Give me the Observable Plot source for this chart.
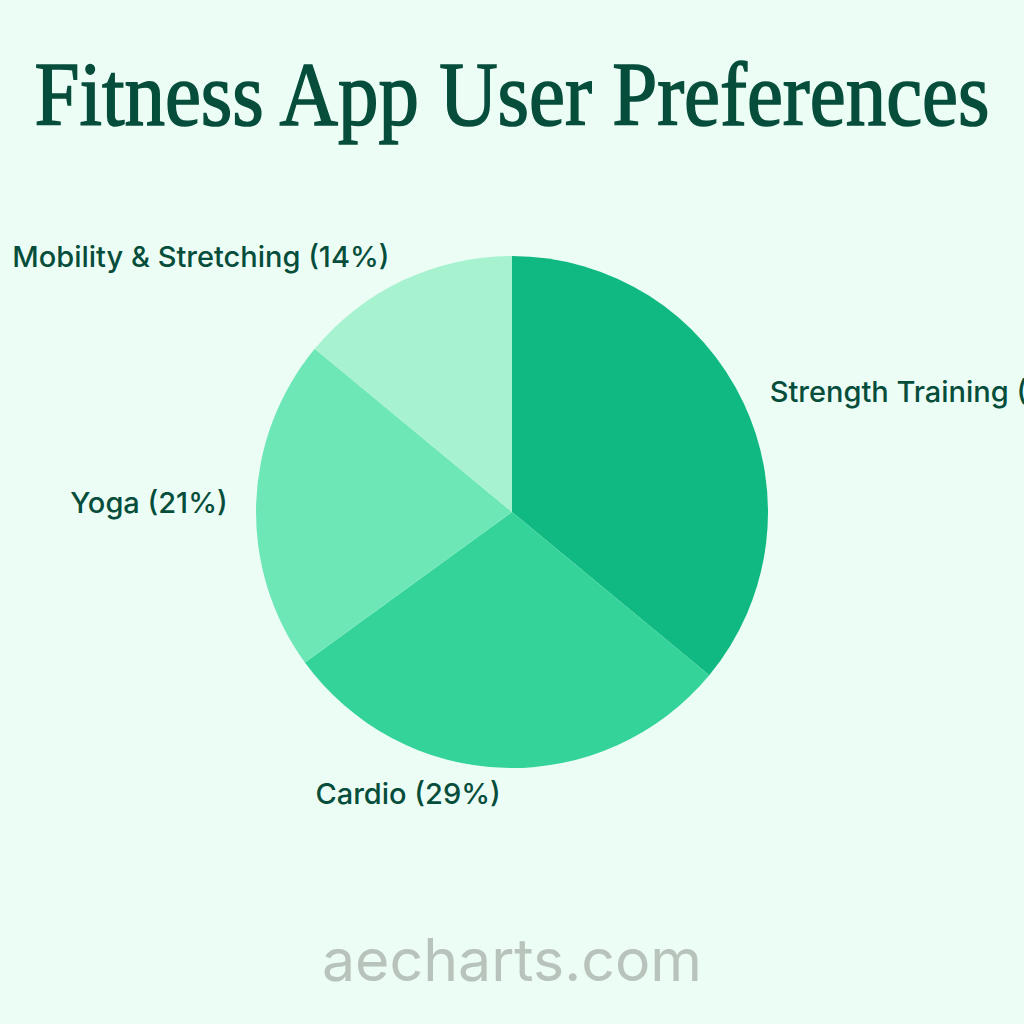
<!DOCTYPE html>
<html>
<head>
<meta charset="utf-8">
<script src="https://cdn.jsdelivr.net/npm/d3@7"></script>
<script src="https://cdn.jsdelivr.net/npm/@observablehq/plot@0.6"></script>
<style>
  html, body { margin: 0; padding: 0; background: #ecfdf5; width: 1024px; height: 1024px; overflow: hidden; }
  #title { height: 180px; position: relative; }
  #title span { position: absolute; left: 512px; top: 50px; white-space: nowrap; font-family: "Liberation Serif", "DejaVu Serif", serif; font-weight: normal; font-size: 90px; line-height: 90px; color: #064e3b; -webkit-text-stroke: 1.6px #064e3b; display: inline-block; transform-origin: 0 0; }
  #chart svg { display: block; }
  #footer { height: 114px; position: relative; }
  #footer span { position: absolute; left: 0; width: 1024px; top: 17px; text-align: center; font-family: Inter, "Noto Sans", sans-serif; font-size: 59px; line-height: 66px; color: #b8c3bb; }
</style>
</head>
<body>
<div id="title"><span id="tt">Fitness App User Preferences</span></div>
<div id="chart"></div>
<div id="footer"><span>aecharts.com</span></div>
<script>
const categories = ["Strength Training", "Cardio", "Yoga", "Mobility & Stretching"];
const shares = [36, 29, 21, 14];
const colors = ["#10b981", "#34d399", "#6ee7b7", "#a7f3d0"];

// fit title to reference width
(function () {
  const el = document.getElementById("tt");
  const w = el.getBoundingClientRect().width;
  const target = 955;
  el.style.transform = `translateX(${-target / 2}px) scaleX(${target / w})`;
})();

const W = 1024, H = 730;
const cx = 512, cy = 332, r = 256;
const labelRatio = 282 / 256;

const data = categories.map((c, i) => ({category: c, value: shares[i]}));
const arcs = d3.pie().sort(null).value(d => d.value).startAngle(0).endAngle(2 * Math.PI)(data);
const slices = arcs.map(a => {
  const mid = (a.startAngle + a.endAngle) / 2;
  return {
    category: a.data.category,
    value: a.data.value,
    startAngle: a.startAngle,
    endAngle: a.endAngle,
    lx: labelRatio * Math.sin(mid),
    ly: labelRatio * Math.cos(mid),
    label: `${a.data.category} (${a.data.value}%)`
  };
});

const pie = Plot.dot(slices, {
  x: () => 0, y: () => 0, fill: "category",
  render(index, scales, values, dimensions, context) {
    const x0 = scales.x(0), y0 = scales.y(0), rad = scales.x(1) - x0;
    const arcGen = d3.arc().innerRadius(0).outerRadius(rad);
    const g = d3.select(context.document.createElementNS("http://www.w3.org/2000/svg", "g"))
      .attr("transform", `translate(${x0},${y0})`);
    for (const i of index) {
      const s = slices[i];
      g.append("path")
        .attr("d", arcGen({startAngle: s.startAngle, endAngle: s.endAngle}))
        .attr("fill", scales.color(s.category));
    }
    return g.node();
  }
});

const textOpts = {x: "lx", y: "ly", text: "label", fill: "#064e3b", fontSize: 29, fontFamily: "Inter, 'Noto Sans', sans-serif", fontWeight: 500};

const chart = Plot.plot({
  width: W, height: H,
  margin: 0,
  style: {background: "transparent", overflow: "visible"},
  x: {domain: [-1, 1], range: [cx - r, cx + r], axis: null},
  y: {domain: [-1, 1], range: [cy + r, cy - r], axis: null},
  color: {domain: categories, range: colors},
  marks: [
    pie,
    Plot.text(slices.filter(d => d.lx >= 0), {...textOpts, textAnchor: "start", dx: 2}),
    Plot.text(slices.filter(d => d.lx < 0), {...textOpts, textAnchor: "end", dx: -3})
  ]
});
document.getElementById("chart").appendChild(chart);
</script>
</body>
</html>
